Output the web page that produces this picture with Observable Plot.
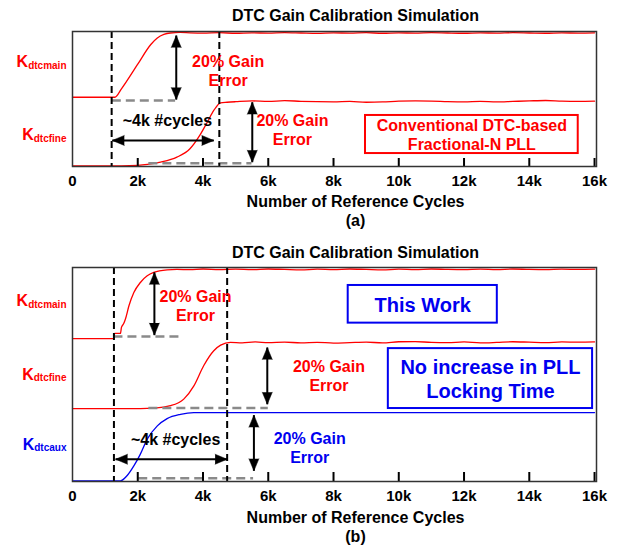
<!DOCTYPE html>
<html>
<head>
<meta charset="utf-8">
<script src="https://cdn.jsdelivr.net/npm/d3@7"></script>
<script src="https://cdn.jsdelivr.net/npm/@observablehq/plot@0.6"></script>
<style>
  body { margin: 0; background: #fff; }
  #chart { width: 618px; }
  #chart svg { display: block; }
</style>
</head>
<body>
<div id="chart"></div>
<script>
// ---- Data: [reference cycle, trace level] (levels are offset per trace, 0–100 of the panel span) ----

// (a) Conventional DTC-based fractional-N PLL
const mainA = [[0,51.3],[1300,51.3],[1500,57.5],[2000,75.8],[2400,90.4],[2600,95.2],[2800,97.8],[3000,98.9],[3300,99.3],[3600,99.0],[4000,98.8],[4500,99.1],[5000,98.7],[5500,99.0],[6000,98.8],[6500,99.2],[7000,98.9],[7500,98.6],[8000,99.0],[8500,98.8],[9000,99.1],[9500,98.7],[10000,99.0],[10500,98.8],[11000,99.2],[11500,98.9],[12000,98.7],[12500,99.0],[13000,98.8],[13500,99.1],[14000,98.9],[14500,98.7],[15000,99.0],[15500,98.8],[16000,99.0]];
const fineA = [[0,0.5],[1000,0.5],[2000,0.9],[2300,1.5],[2700,3.2],[3200,6.9],[3600,13.1],[3900,23.0],[4130,32.8],[4330,41.5],[4540,47.2],[4740,47.6],[5000,48.0],[5500,48.6],[6000,48.2],[6500,48.8],[7000,48.3],[7500,48.0],[8000,47.9],[8500,48.2],[9000,47.6],[9500,47.8],[10000,48.4],[10500,48.6],[11000,48.5],[11500,48.1],[12000,47.9],[12500,48.3],[13000,47.8],[13500,48.2],[14000,48.6],[14500,48.9],[15000,48.4],[15500,48.2],[16000,48.4]];

// (b) This work
const mainB = [[0,66.8],[1270,66.8],[1290,69.2],[1470,69.2],[1500,72.0],[1570,73.8],[1620,75.8],[1730,82.1],[1880,88.3],[2080,93.0],[2290,96.1],[2490,97.7],[2900,98.9],[3200,99.1],[3600,99.0],[4000,99.3],[4500,99.0],[5000,99.2],[5500,99.0],[6000,99.3],[6500,99.1],[7000,98.9],[7500,99.2],[8000,99.0],[8500,99.3],[9000,99.1],[9500,98.9],[10000,99.2],[10500,99.0],[11000,99.3],[11500,99.1],[12000,99.0],[12500,99.2],[13000,99.0],[13500,99.3],[14000,99.1],[14500,99.0],[15000,99.2],[15500,99.1],[16000,99.2]];
const fineB = [[0,34.1],[2080,34.1],[2500,34.3],[3000,35.4],[3410,38.5],[3720,44.7],[4020,54.1],[4330,61.1],[4540,63.7],[4840,65.0],[5200,64.8],[5600,65.2],[6000,64.9],[6500,65.1],[7000,64.8],[7500,65.0],[8000,64.7],[8500,64.9],[9000,65.1],[9500,64.8],[10000,65.3],[10500,65.4],[11000,65.0],[11500,64.9],[12000,65.2],[12500,64.8],[13000,65.0],[13500,65.3],[14000,65.1],[14500,64.9],[15000,65.2],[15500,65.1],[16000,65.2]];
const auxB = [[0,0.3],[1470,0.3],[1670,2.7],[1880,7.3],[2080,12.8],[2290,19.8],[2600,26.0],[2900,29.4],[3310,31.4],[3720,32.2],[16000,32.2]];

// Locking-window markers (cycles)
const windowA = [1200, 4500];
const windowB = [1270, 4740];

// Initial gain levels carried forward (dashed)
const levelsA = [{y: 48.9, x1: 1220, x2: 3160}, {y: 2.4, x1: 2340, x2: 5500}];
const levelsB = [{y: 67.8, x1: 1270, x2: 3360}, {y: 34.3, x1: 2340, x2: 6000}, {y: 1.5, x1: 2030, x2: 5550}];

// Double-headed arrows
const arrowsA = [{x1: 3180, y1: 49.6, x2: 3180, y2: 97.0}, {x1: 5510, y1: 3.2, x2: 5510, y2: 47.6}, {x1: 1220, y1: 19.3, x2: 4330, y2: 19.3}];
const arrowsB = [{x1: 2510, y1: 68.4, x2: 2510, y2: 97.7}, {x1: 5970, y1: 36.1, x2: 5970, y2: 62.6}, {x1: 5560, y1: 5.0, x2: 5560, y2: 31.0}, {x1: 1320, y1: 10.4, x2: 4740, y2: 10.4}];

// Annotations
const GAIN_ERR = "20% Gain\nError";
const CYCLES = "~4k #cycles";
const notesA = [{x: 4770, y: 71.5, text: GAIN_ERR, c: "red"}, {x: 6740, y: 27.6, text: GAIN_ERR, c: "red"}, {x: 2910, y: 34.4, text: CYCLES, c: "black"}];
const notesB = [{x: 3770, y: 82.5, text: GAIN_ERR, c: "red"}, {x: 7860, y: 49.8, text: GAIN_ERR, c: "red"}, {x: 7270, y: 15.9, text: GAIN_ERR, c: "blue"}, {x: 3160, y: 19.9, text: CYCLES, c: "black"}];
const boxesA = [{x1: 8980, x2: 15500, y1: 9.6, y2: 37.8, text: "Conventional DTC-based\nFractional-N PLL", c: "red"}];
const boxesB = [{x1: 8450, x2: 13020, y1: 74.0, y2: 91.6, text: "This Work", c: "blue"}, {x1: 9680, x2: 15940, y1: 34.1, y2: 62.1, text: "No increase in PLL\nLocking Time", c: "blue"}];

// Trace names (K with subscript) and their levels
const labelsA = [{sub: "dtcmain", y: 77.4, c: "red"}, {sub: "dtcfine", y: 23.1, c: "red"}];
const labelsB = [{sub: "dtcmain", y: 84.3, c: "red"}, {sub: "dtcfine", y: 50.0, c: "red"}, {sub: "dtcaux", y: 17.2, c: "blue"}];

const xTicks = [0, 2000, 4000, 6000, 8000, 10000, 12000, 14000, 16000];
const TITLE = "DTC Gain Calibration Simulation";
const XLABEL = "Number of Reference Cycles";

// ---- Drawing ----
const FONT = "'Liberation Sans', Arial, Helvetica, sans-serif";
const COLORS = {red: "#ff0000", blue: "#0000f0", black: "#000000"};
const fmt = d => d === 0 ? "0" : `${d / 1000}k`;

const measure = (() => {
  const ctx = document.createElement("canvas").getContext("2d");
  return (text, size) => { ctx.font = `bold ${size}px ${FONT}`; return ctx.measureText(text).width; };
})();

function headsOf(arrows) {
  return arrows.flatMap(a => {
    const vertical = a.x1 === a.x2;
    const fwd = vertical ? (a.y2 > a.y1 ? 0 : 180) : (a.x2 > a.x1 ? 90 : 270);
    return [{x: a.x2, y: a.y2, r: fwd}, {x: a.x1, y: a.y1, r: (fwd + 180) % 360}];
  });
}

function kLabel(l) {
  const fill = COLORS[l.c];
  const w = measure(l.sub, 10);
  return [
    Plot.text([l], {y: "y", frameAnchor: "left", text: d => d.sub, textAnchor: "end", dx: -6, dy: 3.5, fontSize: 10, fill}),
    Plot.text([l], {y: "y", frameAnchor: "left", text: () => "K", textAnchor: "end", dx: -6 - w, fontSize: 16, fill})
  ];
}

function panel(cfg) {
  const H = cfg.height - cfg.marginTop - cfg.marginBottom;
  return Plot.plot({
    width: 618,
    height: cfg.height,
    marginLeft: 72,
    marginRight: 22,
    marginTop: cfg.marginTop,
    marginBottom: cfg.marginBottom,
    style: {fontFamily: FONT, fontWeight: "bold", background: "white", color: "black"},
    x: {domain: [0, 16060]},
    y: {domain: [0, 100], axis: null},
    marks: [
      // traces
      ...cfg.traces.map(t => Plot.line(t.data, {x: d => d[0], y: d => d[1], stroke: COLORS[t.c], strokeWidth: 1.3, curve: "monotone-x"})),
      // dashed initial levels
      Plot.ruleY(cfg.levels, {y: "y", x1: "x1", x2: "x2", stroke: "#8a8a8a", strokeWidth: 2.5, strokeDasharray: "9,5"}),
      // locking window
      Plot.ruleX(cfg.window, {x: d => d, stroke: "black", strokeWidth: 2, strokeDasharray: "7,4"}),
      // arrows
      Plot.link(cfg.arrows, {x1: "x1", y1: "y1", x2: "x2", y2: "y2", stroke: "black", strokeWidth: 2}),
      Plot.vector(headsOf(cfg.arrows), {x: "x", y: "y", rotate: "r", length: 12, r: 5, shape: "spike", anchor: "end", fill: "black", stroke: "black", strokeWidth: 0.5}),
      // boxed notes
      Plot.rect(cfg.boxes, {x1: "x1", x2: "x2", y1: "y1", y2: "y2", fill: "none", stroke: d => COLORS[d.c], strokeWidth: 2}),
      ...cfg.boxes.map(b => Plot.text([b], {x: d => (d.x1 + d.x2) / 2, y: d => (d.y1 + d.y2) / 2, text: "text", fill: COLORS[b.c], fontSize: cfg.boxFont, lineHeight: cfg.boxLine})),
      // free notes
      ...cfg.notes.map(n => Plot.text([n], {x: "x", y: "y", text: "text", fill: COLORS[n.c], fontSize: 16, lineHeight: 1.19})),
      // trace names
      ...cfg.labels.flatMap(kLabel),
      // x axis: inward ticks, labels, title
      Plot.tickX(xTicks.filter(d => d > 0), {x: d => d, insetTop: H - cfg.tickLen, stroke: "black", strokeWidth: 2}),
      Plot.axisX(xTicks, {tickSize: 0, tickPadding: 8.5, tickFormat: fmt, fontSize: 15, fontWeight: "bold", fill: "black", label: null}),
      Plot.frame({stroke: "#333333", strokeWidth: 1.5}),
      Plot.text([TITLE], {frameAnchor: "top", lineAnchor: "middle", dx: 21, dy: cfg.titleDy, fontSize: 16, fill: "black"}),
      Plot.text([XLABEL], {frameAnchor: "bottom", lineAnchor: "middle", dx: 21, dy: cfg.labelDy, fontSize: 16, fill: "black"}),
      Plot.text([cfg.caption], {frameAnchor: "bottom", lineAnchor: "middle", dx: 21, dy: cfg.captionDy, fontSize: 16, fill: "black"})
    ]
  });
}

const chart = document.getElementById("chart");
chart.append(panel({
  height: 230, marginTop: 31, marginBottom: 64, tickLen: 8,
  traces: [{data: mainA, c: "red"}, {data: fineA, c: "red"}],
  levels: levelsA, window: windowA, arrows: arrowsA, notes: notesA, boxes: boxesA,
  boxFont: 16, boxLine: 1.16, labels: labelsA,
  titleDy: -15.8, labelDy: 35.3, captionDy: 54, caption: "(a)"
}));
chart.append(panel({
  height: 317, marginTop: 37, marginBottom: 66, tickLen: 9,
  traces: [{data: mainB, c: "red"}, {data: fineB, c: "red"}, {data: auxB, c: "blue"}],
  levels: levelsB, window: windowB, arrows: arrowsB, notes: notesB, boxes: boxesB,
  boxFont: 20, boxLine: 1.21, labels: labelsB,
  titleDy: -14.8, labelDy: 36.3, captionDy: 55, caption: "(b)"
}));
</script>
</body>
</html>
